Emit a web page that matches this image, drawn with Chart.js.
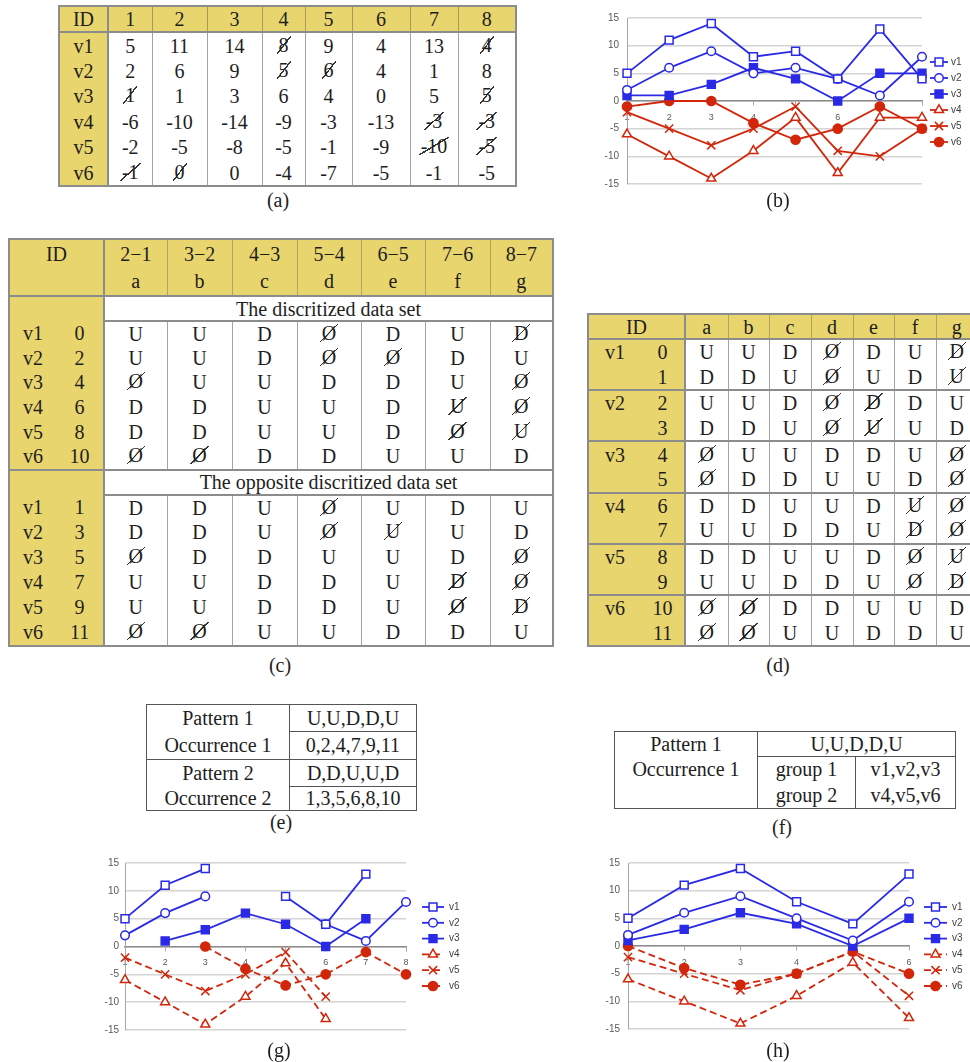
<!DOCTYPE html>
<html>
<head>
<meta charset="utf-8">
<script src="https://cdn.jsdelivr.net/npm/chart.js@4.4.1/dist/chart.umd.min.js"></script>
<style>
html, body { margin: 0; padding: 0; background: #fff; }
body { position: relative; width: 970px; height: 1062px; overflow: hidden;
  font-family: 'Liberation Serif', 'DejaVu Serif', serif; color: #1e1e1e; }
table { position: absolute; border-collapse: collapse; table-layout: fixed; font-size: 20px; }
td { padding: 0; text-align: center; white-space: nowrap; line-height: 20px; }
.y { background: #e9d56e; }
.cap { position: absolute; font-size: 20px; transform: translateX(-50%); }
.s { display: inline-block; padding: 0 2px; margin: 0 -2px; line-height: 18px; vertical-align: top;
  background: linear-gradient(to bottom right, transparent calc(50% - 0.7px), #333 calc(50% - 0.7px),
    #333 calc(50% + 0.7px), transparent calc(50% + 0.7px)); }
canvas { position: absolute; }
</style>
</head>
<body>
<div id="tables"></div>
<canvas id="chart-b" width="385" height="195" style="left:585px;top:3px"></canvas>
<canvas id="chart-g" width="385" height="195" style="left:85px;top:848px"></canvas>
<canvas id="chart-h" width="385" height="195" style="left:585px;top:848px"></canvas>

<div class="cap" style="left:278px;top:189px">(a)</div>
<div class="cap" style="left:778px;top:189px">(b)</div>
<div class="cap" style="left:280px;top:654px">(c)</div>
<div class="cap" style="left:778px;top:654px">(d)</div>
<div class="cap" style="left:281px;top:811px">(e)</div>
<div class="cap" style="left:782px;top:816px">(f)</div>
<div class="cap" style="left:279px;top:1039px">(g)</div>
<div class="cap" style="left:778px;top:1039px">(h)</div>

<script>
// series names and categories
const seriesNames = ["v1", "v2", "v3", "v4", "v5", "v6"];
const catsFull = ["1", "2", "3", "4", "5", "6", "7", "8"];
const catsGroup = ["1", "2", "3", "4", "5", "6"];
const yTicks = [-15, -10, -5, 0, 5, 10, 15];

// (a)/(b) raw data set
const rawV1 = [5, 11, 14, 8, 9, 4, 13, 4];
const rawV2 = [2, 6, 9, 5, 6, 4, 1, 8];
const rawV3 = [1, 1, 3, 6, 4, 0, 5, 5];
const rawV4 = [-6, -10, -14, -9, -3, -13, -3, -3];
const rawV5 = [-2, -5, -8, -5, -1, -9, -10, -5];
const rawV6 = [-1, 0, 0, -4, -7, -5, -1, -5];

// (g) after removing the struck-out values
const gapV1 = [5, 11, 14, null, 9, 4, 13, null];
const gapV2 = [2, 6, 9, null, null, 4, 1, 8];
const gapV3 = [null, 1, 3, 6, 4, 0, 5, null];
const gapV4 = [-6, -10, -14, -9, -3, -13, null, null];
const gapV5 = [-2, -5, -8, -5, -1, -9, null, null];
const gapV6 = [null, null, 0, -4, -7, -5, -1, -5];

// (h) grouped pattern
const grpV1 = [5, 11, 14, 8, 4, 13];
const grpV2 = [2, 6, 9, 5, 1, 8];
const grpV3 = [1, 3, 6, 4, 0, 5];
const grpV4 = [-6, -10, -14, -9, -3, -13];
const grpV5 = [-2, -5, -8, -5, -1, -9];
const grpV6 = [0, -4, -7, -5, -1, -5];

// (c)/(d) discretized rows, trailing * = struck out
const diffLetters = ["a", "b", "c", "d", "e", "f", "g"];
const discRows = [
  "U U D Ø* D U D*",
  "U U D Ø* Ø* D U",
  "Ø* U U D D U Ø*",
  "D D U U D U* Ø*",
  "D D U U D Ø* U*",
  "Ø* Ø* D D U U D",
];
const oppRows = [
  "D D U Ø* U D U",
  "D D U Ø* U* U D",
  "Ø* D D U U D Ø*",
  "U U D D U D* Ø*",
  "U U D D U Ø* D*",
  "Ø* Ø* U U D D U",
];
const pairRows = [
  "U U D Ø* D U D*", "D D U Ø* U D U*",
  "U U D Ø* D* D U", "D D U Ø* U* U D",
  "Ø* U U D D U Ø*", "Ø* D D U U D Ø*",
  "D D U U D U* Ø*", "U U D D U D* Ø*",
  "D D U U D Ø* U*", "U U D D U Ø* D*",
  "Ø* Ø* D D U U D", "Ø* Ø* U U D D U",
];

const GRAY = "#8c8c8c";
const LINE = "1.5px solid #a3a3a3";

function cell(t) {
  if (t.endsWith("*")) return '<span class="s">' + t.slice(0, -1) + "</span>";
  return t;
}
function cols(ws) {
  return "<colgroup>" + ws.map(w => `<col style="width:${w}px">`).join("") + "</colgroup>";
}

// table (a)
function tableA() {
  const raw = [rawV1, rawV2, rawV3, rawV4, rawV5, rawV6];
  const gap = [gapV1, gapV2, gapV3, gapV4, gapV5, gapV6];
  let h = `<table style="left:58px;top:5px;width:457px;border:2px solid ${GRAY}">`;
  h += cols([49, 44, 55, 55, 43, 47, 58, 48, 58]);
  h += `<tr class="y"><td style="height:24px;border-right:2px solid ${GRAY}">ID</td>`;
  h += catsFull.map((c, i) => `<td style="${i ? "border-left:1px solid #a89a55" : ""}">${c}</td>`).join("");
  h += "</tr>";
  raw.forEach((row, r) => {
    h += `<tr><td class="y" style="height:25.4px;border-right:2px solid ${GRAY};${r == 0 ? "border-top:2px solid " + GRAY : ""}">${seriesNames[r]}</td>`;
    h += row.map((v, i) => {
      const t = gap[r][i] === null ? cell(v + "*") : String(v);
      return `<td style="${i ? "border-left:" + LINE : ""};${r == 0 ? "border-top:2px solid " + GRAY : ""}">${t}</td>`;
    }).join("");
    h += "</tr>";
  });
  return h + "</table>";
}

// table (c)
function tableC() {
  let h = `<table style="left:8px;top:238px;width:544px;border:2px solid ${GRAY}">`;
  h += cols([47, 48, 63, 65, 65, 64, 64, 65, 63]);
  h += `<tr class="y"><td colspan="2" rowspan="2" style="vertical-align:top;padding-top:4px;border-right:2px solid ${GRAY}">ID</td>`;
  h += diffLetters.map((l, i) => `<td style="height:27px;${i ? "border-left:1px solid #b3a45c" : ""}">${i + 2}−${i + 1}</td>`).join("");
  h += "</tr><tr class='y'>";
  h += diffLetters.map((l, i) => `<td style="height:28px;${i ? "border-left:1px solid #b3a45c" : ""}">${l}</td>`).join("");
  h += "</tr>";
  const section = (title, rows, offset, rh) => {
    let s = `<tr><td colspan="2" class="y" style="height:24px;border-right:2px solid ${GRAY};border-top:2px solid ${GRAY}"></td>`;
    s += `<td colspan="7" style="border:2px solid ${GRAY}">${title}</td></tr>`;
    rows.forEach((row, r) => {
      s += `<tr><td class="y" style="height:${rh}px;text-align:left;padding-left:13px">${seriesNames[r]}</td>`;
      s += `<td class="y" style="border-right:2px solid ${GRAY}">${2 * r + offset}</td>`;
      s += row.split(" ").map((t, i) => `<td style="${i ? "border-left:" + LINE : ""}">${cell(t)}</td>`).join("");
      s += "</tr>";
    });
    return s;
  };
  h += section("The discritized data set", discRows, 0, 24.6);
  h += section("The opposite discritized data set", oppRows, 1, 25);
  return h + "</table>";
}

// table (d)
function tableD() {
  let h = `<table style="left:587px;top:313px;width:390px;border:2px solid ${GRAY}">`;
  h += cols([53, 44, 43, 41, 42, 42, 41, 42, 42]);
  h += `<tr class="y"><td colspan="2" style="height:23px;border-right:2px solid ${GRAY}">ID</td>`;
  h += diffLetters.map((l, i) => `<td style="${i ? "border-left:1px solid #b3a45c" : ""}">${l}</td>`).join("");
  h += "</tr>";
  pairRows.forEach((row, r) => {
    const top = r % 2 == 0 ? `border-top:2px solid ${GRAY};` : "";
    h += `<tr><td class="y" style="height:24.6px;${top}">${r % 2 == 0 ? seriesNames[r / 2] : ""}</td>`;
    h += `<td class="y" style="${top}border-right:2px solid ${GRAY}">${r}</td>`;
    h += row.split(" ").map((t, i) => `<td style="${top}${i ? "border-left:" + LINE : ""}">${cell(t)}</td>`).join("");
    h += "</tr>";
  });
  return h + "</table>";
}

// tables (e) and (f)
function tableE() {
  const B = "1.5px solid #555";
  const rows = [
    ["Pattern 1", "U,U,D,D,U", 26, true],
    ["Occurrence 1", "0,2,4,7,9,11", 28, "all"],
    ["Pattern 2", "D,D,U,U,D", 26, true],
    ["Occurrence 2", "1,3,5,6,8,10", 24, false],
  ];
  let h = `<table style="left:146px;top:704px;width:270px;border:${B}">` + cols([143, 127]);
  rows.forEach(([a, b, ht, line]) => {
    h += `<tr><td style="height:${ht}px;border-right:${B};${line == "all" ? "border-bottom:" + B : ""}">${a}</td>`;
    h += `<td style="${line ? "border-bottom:" + B : ""}">${b}</td></tr>`;
  });
  return h + "</table>";
}
function tableF() {
  const B = "1.5px solid #555";
  let h = `<table style="left:614px;top:731px;width:341px;border:${B}">` + cols([143, 98, 100]);
  h += `<tr><td style="height:24px;border-right:${B}">Pattern 1</td><td colspan="2" style="border-bottom:${B}">U,U,D,D,U</td></tr>`;
  h += `<tr><td style="height:25px;border-right:${B}">Occurrence 1</td><td>group 1</td><td style="border-left:${B}">v1,v2,v3</td></tr>`;
  h += `<tr><td style="height:27px;border-right:${B}"></td><td>group 2</td><td style="border-left:${B}">v4,v5,v6</td></tr>`;
  return h + "</table>";
}

document.getElementById("tables").innerHTML = tableA() + tableC() + tableD() + tableE() + tableF();

// charts
const BLUE = "#2a2ae6";
const RED = "#d2260a";
Chart.defaults.font.family = "'Liberation Sans', Arial, sans-serif";

const markers = [
  { pointStyle: "rect", r: 5.6, color: BLUE, open: true },
  { pointStyle: "circle", r: 4.3, color: BLUE, open: true },
  { pointStyle: "rect", r: 5.6, color: BLUE, open: false },
  { pointStyle: "triangle", r: 5.2, color: RED, open: true },
  { pointStyle: "crossRot", r: 5.8, color: RED, open: false },
  { pointStyle: "circle", r: 4.6, color: RED, open: false },
];

const sideLegend = {
  id: "sideLegend",
  afterDraw(chart, args, opts) {
    const ctx = chart.ctx;
    const x0 = chart.chartArea.right + opts.dx;
    chart.data.datasets.forEach((ds, i) => {
      const y = opts.top + i * opts.gap;
      ctx.save();
      ctx.strokeStyle = ds.borderColor;
      ctx.lineWidth = ds.borderWidth;
      ctx.setLineDash(ds.borderDash || []);
      ctx.beginPath();
      ctx.moveTo(x0, y);
      ctx.lineTo(x0 + opts.len, y);
      ctx.stroke();
      ctx.setLineDash([]);
      ctx.fillStyle = ds.pointBackgroundColor;
      ctx.strokeStyle = ds.pointBorderColor;
      ctx.lineWidth = ds.pointBorderWidth;
      Chart.helpers.drawPoint(ctx, { pointStyle: ds.pointStyle, radius: ds.pointRadius, borderWidth: ds.pointBorderWidth }, x0 + opts.len / 2, y);
      ctx.fillStyle = "#404040";
      ctx.font = "10px 'Liberation Sans', Arial, sans-serif";
      ctx.textBaseline = "middle";
      ctx.fillText(ds.label, x0 + opts.len + opts.tx, y);
      ctx.restore();
    });
  },
};

function makeChart(id, labels, series, dashed, geo) {
  const datasets = series.map((d, i) => {
    const m = markers[i];
    return {
      label: seriesNames[i],
      data: d,
      borderColor: m.color,
      backgroundColor: m.color,
      borderWidth: 1.8,
      borderDash: dashed && i >= 3 ? [7, 4] : [],
      pointStyle: m.pointStyle,
      pointRadius: m.r,
      pointBorderWidth: 1.5,
      pointBorderColor: m.color,
      pointBackgroundColor: m.open ? "#fff" : m.color,
      spanGaps: false,
      tension: 0,
    };
  });
  new Chart(document.getElementById(id), {
    type: "line",
    data: { labels: labels, datasets: datasets },
    plugins: [sideLegend],
    options: {
      responsive: false,
      animation: false,
      events: [],
      devicePixelRatio: 1,
      layout: { padding: { top: 15, bottom: 13, left: 0, right: geo.right } },
      plugins: {
        legend: { display: false },
        tooltip: { enabled: false },
        sideLegend: geo.legend,
      },
      scales: {
        x: {
          type: "category",
          offset: false,
          position: { y: 0 },
          grid: { drawOnChartArea: false, drawTicks: true, tickLength: 4, color: "#a6a6a6" },
          border: { color: "#8c8c8c", width: 1.5 },
          ticks: { padding: 7, autoSkip: false, maxRotation: 0, color: "#595959", font: { size: 9 } },
        },
        y: {
          min: yTicks[0],
          max: yTicks[yTicks.length - 1],
          ticks: { stepSize: yTicks[1] - yTicks[0], padding: geo.tickPad, color: "#595959", font: { size: 10 } },
          grid: { color: "#d4d4d4", lineWidth: 1.5, drawTicks: false },
          border: { color: "#a6a6a6", width: 1 },
          afterFit: s => { s.width = geo.axisW; },
        },
      },
    },
  });
}

makeChart("chart-b", catsFull, [rawV1, rawV2, rawV3, rawV4, rawV5, rawV6], false,
  { right: 48, axisW: 42, tickPad: 8, legend: { dx: 8, len: 18, tx: 3, top: 59, gap: 16 } });
makeChart("chart-g", catsFull, [gapV1, gapV2, gapV3, gapV4, gapV5, gapV6], true,
  { right: 64, axisW: 40, tickPad: 6, legend: { dx: 16, len: 22, tx: 5, top: 59, gap: 15.8 } });
makeChart("chart-h", catsGroup, [grpV1, grpV2, grpV3, grpV4, grpV5, grpV6], true,
  { right: 61, axisW: 43, tickPad: 8, legend: { dx: 15, len: 23, tx: 5, top: 59, gap: 15.8 } });
</script>
</body>
</html>
